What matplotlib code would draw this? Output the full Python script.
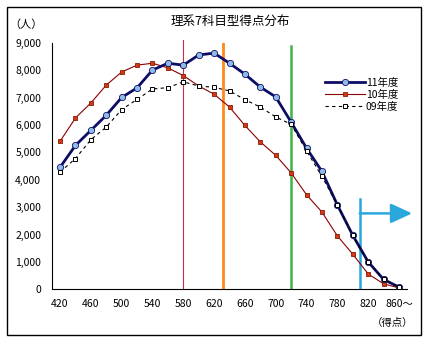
import numpy as np
import matplotlib.pyplot as plt
from matplotlib.patches import Rectangle

plt.rcParams['font.family'] = ['Noto Sans CJK JP', 'DejaVu Sans']

# score classes (20-point steps), last one is "860~"
scores = list(range(420, 861, 20))
tick_scores = list(range(420, 861, 40))
tick_labels = [str(s) for s in tick_scores[:-1]] + ['860～']

y11 = [4450, 5250, 5800, 6350, 7000, 7350, 8000, 8250, 8180, 8550, 8620, 8250,
       7850, 7380, 7020, 6100, 5150, 4300, 3080, 1970, 1000, 360, 80]
y10 = [5400, 6250, 6800, 7450, 7930, 8180, 8250, 8080, 7800, 7420, 7120, 6650,
       5980, 5380, 4890, 4250, 3450, 2820, 1950, 1280, 560, 200, 50]
y09 = [4280, 4770, 5460, 5920, 6560, 6930, 7310, 7360, 7570, 7420, 7370, 7240,
       6920, 6650, 6290, 6020, 5050, 4120, 3080, 1970, 1000, 360, 80]

# reference score lines
ref_lines = [580, 632, 720, 809]

fig = plt.figure(figsize=(4.31, 3.47), dpi=100)
fig.patches.append(Rectangle((0.017, 0.0346), 0.96, 0.944, transform=fig.transFigure,
                             fill=False, edgecolor='black', linewidth=1.0))

ax = fig.add_axes([0.1214, 0.1663, 0.8222, 0.7107])

# vertical marker lines
ax.plot([ref_lines[0]] * 2, [0, 9100], color='#c0304a', linewidth=0.8, clip_on=False, zorder=1)
ax.plot([ref_lines[1]] * 2, [0, 8990], color='#ff8a1c', linewidth=2.0, zorder=1)
ax.plot([ref_lines[2]] * 2, [0, 8880], color='#3cb448', linewidth=1.8, zorder=1)
ax.plot([ref_lines[3]] * 2, [0, 3300], color='#2aa8dc', linewidth=1.8, zorder=1)
ax.annotate('', xy=(877, 2770), xytext=(ref_lines[3], 2770), annotation_clip=False,
            arrowprops=dict(arrowstyle='-|>,head_length=1.3,head_width=0.6',
                            color='#2aa8dc', linewidth=1.8, shrinkA=0, shrinkB=0))

ax.plot(scores, y10, color='#8b0000', linewidth=0.8, marker='s', markersize=3.2,
        markerfacecolor='#d03a1a', markeredgecolor='#8b1a00', markeredgewidth=0.6,
        label='10年度', zorder=3)
ax.plot(scores, y11, color='#0d0d66', linewidth=2.0, marker='o', markersize=4.5,
        markerfacecolor='#8fbbe8', markeredgecolor='#0d0d66', markeredgewidth=0.6,
        label='11年度', zorder=4)
ax.plot(scores, y09, color='black', linewidth=0.8, linestyle=(0, (3, 3)), marker='s',
        markersize=3.2, markerfacecolor='white', markeredgecolor='black',
        markeredgewidth=0.7, label='09年度', zorder=5)

ax.set_xlim(410, 870)
ax.set_ylim(0, 9000)
ax.set_xticks(tick_scores)
ax.set_xticklabels(tick_labels)
ax.set_yticks(range(0, 9001, 1000))
ax.set_yticklabels([f'{v:,}' for v in range(0, 9001, 1000)])
ax.tick_params(length=0, labelsize=7.5)
ax.tick_params(axis='y', pad=8)
ax.tick_params(axis='x', pad=7)
for s in ['top', 'right']:
    ax.spines[s].set_visible(False)

h, l = ax.get_legend_handles_labels()
order = [1, 0, 2]
ax.legend([h[i] for i in order], [l[i] for i in order], loc='upper left',
          bbox_to_anchor=(0.755, 0.88), frameon=False, fontsize=7.5,
          handlelength=3.8, handletextpad=0.1, labelspacing=0.2, borderpad=0)

fig.text(0.534, 0.937, '理系7科目型得点分布', ha='center', va='center', fontsize=9)
fig.text(0.06, 0.928, '（人）', ha='center', va='center', fontsize=8)
fig.text(0.958, 0.069, '（得点）', ha='right', va='center', fontsize=7.5)

fig.savefig('out.png', dpi=100)
